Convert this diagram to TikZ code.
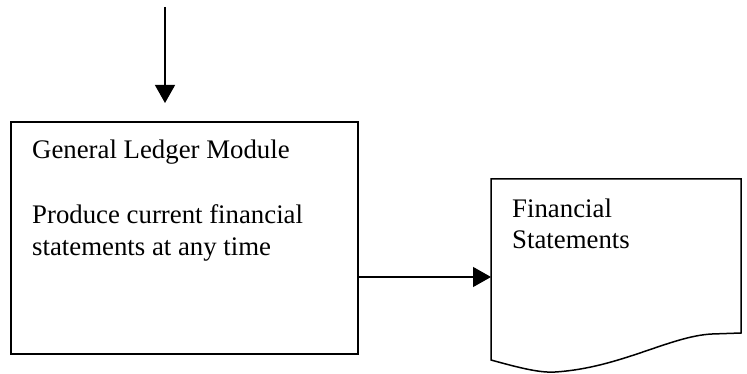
\documentclass[tikz,border=0pt]{standalone}
\usepackage{fontspec}
\setmainfont{Liberation Serif}
\usetikzlibrary{arrows.meta}
\tikzset{
  boxline/.style={draw=black, line width=1.5pt},
  flow/.style={draw=black, line width=1.3pt, -{Triangle[length=18pt,width=20pt]}},
  label/.style={inner sep=0pt, anchor=base west, align=left,
    font=\fontsize{26.8}{32}\selectfont},
}
\begin{document}
\begin{tikzpicture}[x=1pt,y=-1pt]
  \useasboundingbox (0,0) rectangle (747,374);

  % processing module box
  \draw[boxline] (11,122) rectangle (358,354);
  \coordinate (glin) at (165,103);
  \coordinate (glright) at (358,277);
  \coordinate (src) at (165,7);
  \node[label] (gltitle) at (32,159) {General Ledger Module};
  % base anchor of a two-line node sits on its last line
  \node[label] (gltext) at (32,255) {Produce current financial\\statements at any time};

  % output document with wavy bottom edge
  \draw[boxline, line join=miter]
    (491,360) -- (491,179) -- (741,179) -- (741,333) -- (712,334)
    .. controls (670,336) and (620,368) .. (555,372)
    .. controls (540,373) and (520,368) .. (491,360) -- cycle;
  \coordinate (docleft) at (491,277);
  \node[label] (doctext) at (512,249) {Financial\\Statements};

  % connectors
  \draw[flow] (src) -- (glin);
  \draw[flow] (glright) -- (docleft);
\end{tikzpicture}
\end{document}
